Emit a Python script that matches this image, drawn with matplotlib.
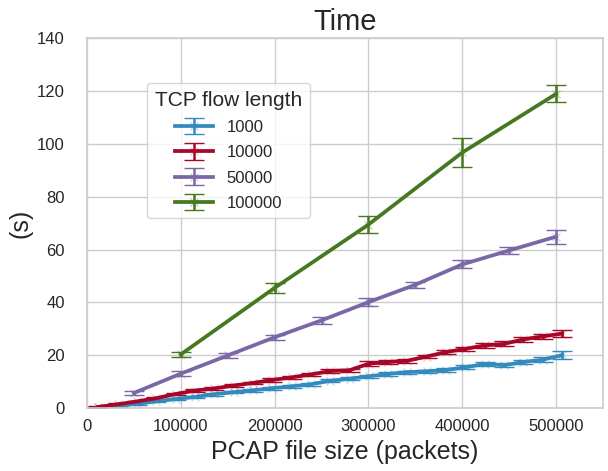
#Import MatPlotLib
import matplotlib
matplotlib.use('Agg')
from matplotlib import pyplot as plt

#Data
sizesSmall = [12000, 32600, 53200, 73800, 94400, 115000, 135600, 156200, 176800,
              197400, 218000, 238600, 259200, 279800, 300400, 321000, 341600,
              362200, 382800, 403400, 424000, 444600, 465200, 485800, 506400]
time1000 = [0.2, 0.8, 1.6, 2.5, 3.4, 4.2, 5.2, 6.0, 6.7, 7.5, 8.2, 9.0, 10.3,
            11.1, 12.0, 12.9, 13.6, 13.9, 14.4, 15.4, 16.7, 16.2, 17.4, 18.3, 20.0]
err1000 = [0.2, 0.3, 0.3, 0.4, 0.4, 0.4, 0.5, 0.5, 0.5, 0.5, 0.5, 0.6, 0.6,
           0.6, 0.6, 0.6, 0.6, 0.6, 0.7, 0.7, 0.7, 0.7, 0.8, 1.0, 1.5]
time10000 = [0.4, 1.4, 2.5, 3.7, 5.3, 6.6, 7.4, 8.5, 9.5, 10.6, 11.6, 12.7, 14.0,
             14.3, 16.8, 17.4, 17.9, 19.5, 21.2, 22.4, 23.7, 24.3, 26.0, 27.1, 28.2]
err10000 = [0.2, 0.3, 0.3, 0.4, 0.4, 0.5, 0.5, 0.5, 0.5, 0.6, 0.6, 0.6, 0.6,
            0.6, 0.9, 0.7, 0.7, 0.7, 0.8, 0.8, 0.8, 0.9, 0.9, 1.0, 1.4]

sizes50000 = [50000, 100000, 150000, 200000, 250000, 300000, 350000, 400000, 450000, 500000]
time50000 = [5.7, 13.0, 19.9, 26.8, 33.2, 40.1, 46.7, 54.4, 59.7, 64.9]
err50000 = [0.7, 1.0, 1.0, 1.0, 1.3, 1.5, 1.2, 1.5, 1.3, 2.7]

sizes100000 = [100000, 200000, 300000, 400000, 500000]
time100000 = [20.3, 45.5, 69.5, 96.8, 119.0]
err100000 = [0.8, 1.8, 3.2, 5.5, 3.2]

labels = ['1000', '10000', '50000', '100000']
colors = ['#348ABD', '#A60628', '#7A68A6', '#467821']
faded = [(0.20, 0.54, 0.74, 0.3), (0.65, 0.02, 0.16, 0.2),
         (0.48, 0.41, 0.65, 0.3), (0.27, 0.47, 0.13, 0.3)]

plt.rcParams['font.family'] = ['Liberation Sans', 'DejaVu Sans']
plt.rcParams['text.color'] = '.15'
plt.rcParams['axes.labelcolor'] = '.15'
plt.rcParams['xtick.color'] = '.15'
plt.rcParams['ytick.color'] = '.15'

fig = plt.figure(figsize=(6.08, 4.71), dpi=100)
ax = fig.add_axes([0.1431, 0.1338, 0.8487, 0.7845])

series = [(sizesSmall, time1000, err1000),
          (sizesSmall, time10000, err10000),
          (sizes50000, time50000, err50000),
          (sizes100000, time100000, err100000)]

for i in range(len(series)):
    x, y, e = series[i]
    ax.errorbar(x, y, yerr=e, color=colors[i], linewidth=2.7, marker='x',
                markersize=6, markeredgewidth=1, markeredgecolor=faded[i],
                capsize=7, capthick=1.8, elinewidth=1.8, label=labels[i])

ax.set_xlim(0, 550000)
ax.set_ylim(0, 140)
ax.set_xticks([0, 100000, 200000, 300000, 400000, 500000])
ax.set_yticks(range(0, 141, 20))

ax.grid(True, color='.8', linewidth=1)
ax.set_axisbelow(True)
for s in ax.spines.values():
    s.set_color('.8')
    s.set_linewidth(1.2)
ax.tick_params(length=0, labelsize=12)
ax.tick_params(axis='x', pad=8)
ax.tick_params(axis='y', pad=16)

ax.set_title('Time', fontsize=21)
ax.set_xlabel('PCAP file size (packets)', fontsize=18)
ax.set_ylabel('(s)', fontsize=18, labelpad=3)

leg = ax.legend(title='TCP flow length', loc='upper left',
                bbox_to_anchor=(0.101, 0.902), fontsize=12, frameon=True,
                handlelength=2.3, labelspacing=0.62, borderpad=0.45)
leg.get_title().set_fontsize(15)
leg.get_frame().set_edgecolor('.8')

plt.savefig('out.png', dpi=100)
